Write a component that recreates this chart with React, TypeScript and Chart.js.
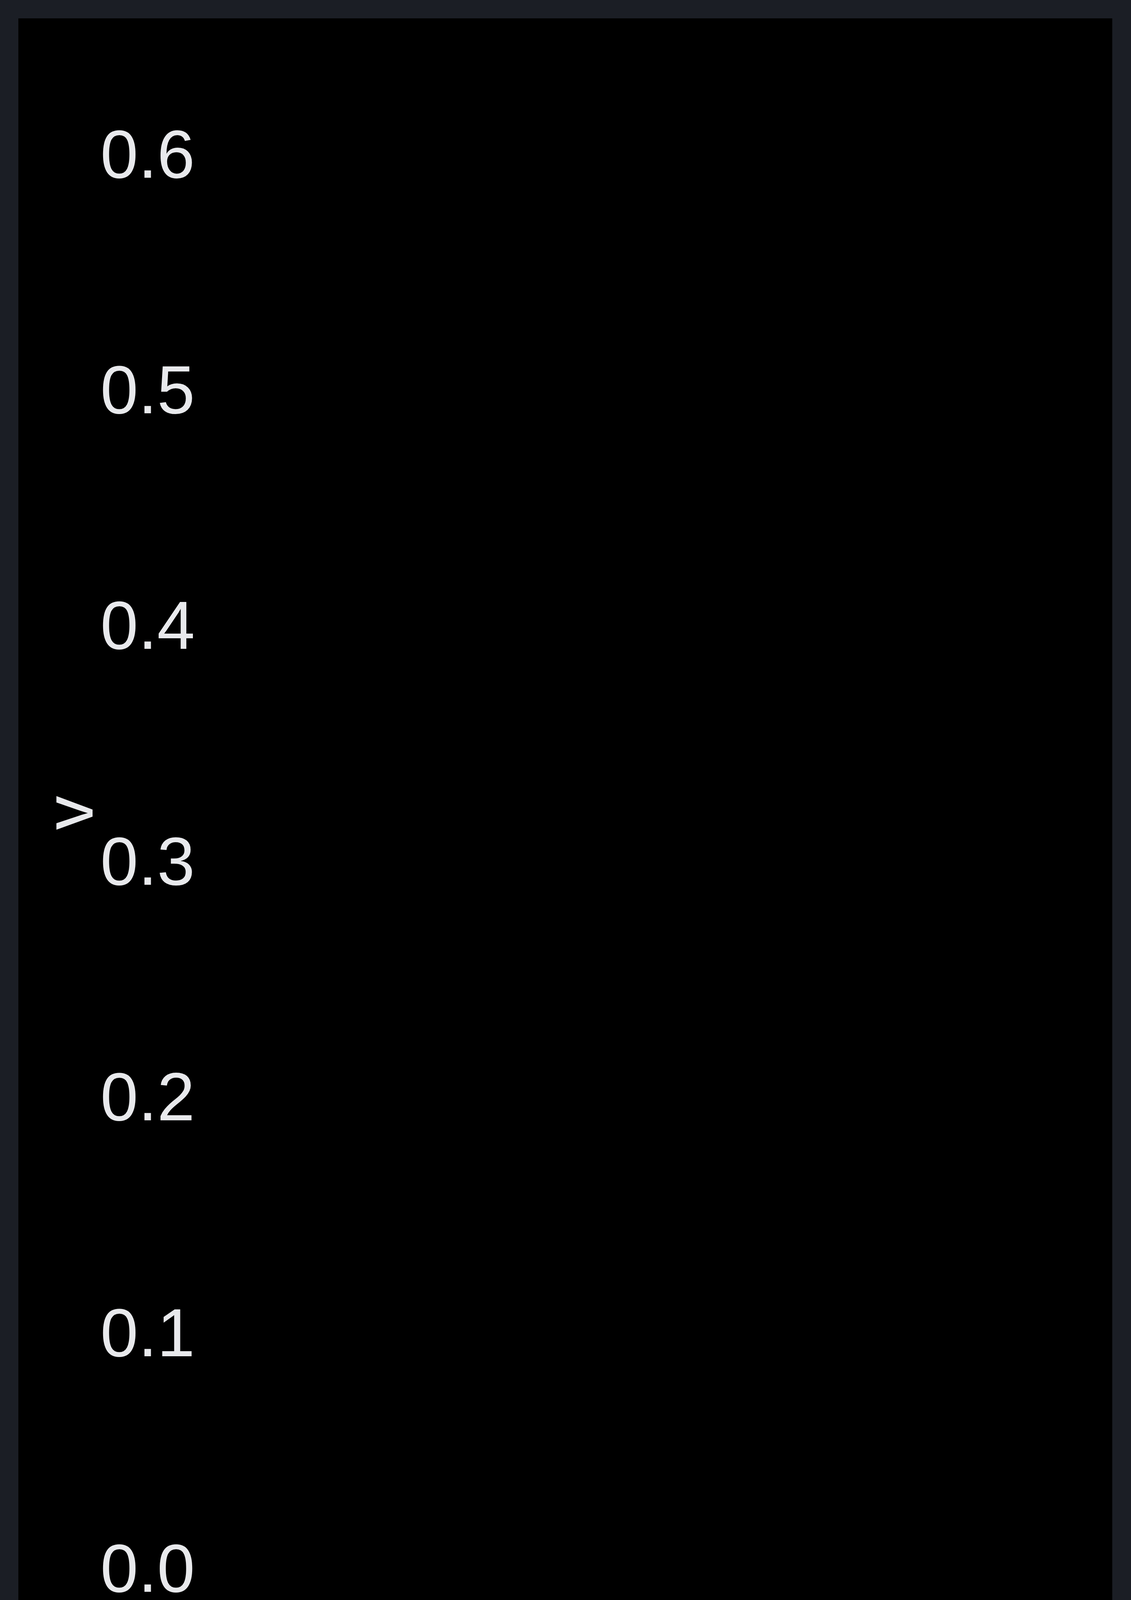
import { useEffect, useRef } from 'react';
import { Chart, registerables, type ChartConfiguration } from 'chart.js';

Chart.register(...registerables);

// categories on the x axis
const categories = ['Density_Encoding', 'Income_Encoding', 'Unemployment_Encoding'];
// bar values (bars are drawn in the background colour, so they do not show)
const values = [0.645, 0.52, 0.38];
// y tick values
const yTicks = [0, 0.1, 0.2, 0.3, 0.4, 0.5, 0.6];
const yMax = 0.645;

const TEXT = '#e8e9ec';
const FONT = { family: '"Liberation Sans", Arial, sans-serif', size: 174 };

export default function App() {
  const canvasRef = useRef<HTMLCanvasElement | null>(null);
  const chartRef = useRef<Chart | null>(null);

  useEffect(() => {
    document.body.style.margin = '0';
    document.body.style.overflow = 'hidden';
    document.body.style.background = '#1b1e25';
    if (!canvasRef.current) return;

    const config: ChartConfiguration<'bar'> = {
      type: 'bar',
      data: {
        labels: categories,
        datasets: [
          {
            label: 'v',
            data: values,
            backgroundColor: '#000000',
            borderWidth: 0,
            categoryPercentage: 1,
            barPercentage: 0.9,
          },
        ],
      },
      options: {
        animation: false,
        responsive: true,
        maintainAspectRatio: false,
        layout: { padding: { top: 88, left: 0, right: 83, bottom: 0 } },
        plugins: {
          legend: { display: false },
          tooltip: { enabled: false },
        },
        scales: {
          x: {
            grid: { display: false, drawTicks: false },
            border: { display: false },
            ticks: {
              color: TEXT,
              font: FONT,
              minRotation: 90,
              maxRotation: 90,
              autoSkip: false,
              padding: 115,
            },
            title: {
              display: true,
              text: 'c',
              color: TEXT,
              font: FONT,
              padding: { top: 0, bottom: 92 },
            },
            afterFit(scale) {
              scale.height = 1919;
            },
          },
          y: {
            min: 0,
            max: yMax,
            grid: { display: false, drawTicks: false },
            border: { display: false },
            ticks: {
              color: TEXT,
              // small line height so the end labels do not push the plot area down
              font: { ...FONT, lineHeight: 0.1 },
              padding: 66,
              autoSkip: false,
              callback: (value) => Number(value).toFixed(1),
            },
            afterBuildTicks(scale) {
              scale.ticks = yTicks.map((v) => ({ value: v }));
            },
            title: {
              display: true,
              text: 'v',
              color: TEXT,
              font: FONT,
              padding: { top: 38, bottom: 0 },
            },
            afterFit(scale) {
              scale.width = 518;
            },
          },
        },
      },
    };

    chartRef.current?.destroy();
    chartRef.current = new Chart(canvasRef.current, config);

    return () => {
      chartRef.current?.destroy();
      chartRef.current = null;
    };
  }, []);

  return (
    <div style={{ position: 'relative', width: 2896, height: 5946, background: '#1b1e25', overflow: 'hidden' }}>
      <div style={{ position: 'absolute', left: 47, top: 47, width: 2801, height: 5850, background: '#000000' }} />
      <div style={{ position: 'absolute', left: 47, top: 47, width: 2801, height: 5899 }}>
        <canvas ref={canvasRef} />
      </div>
    </div>
  );
}
